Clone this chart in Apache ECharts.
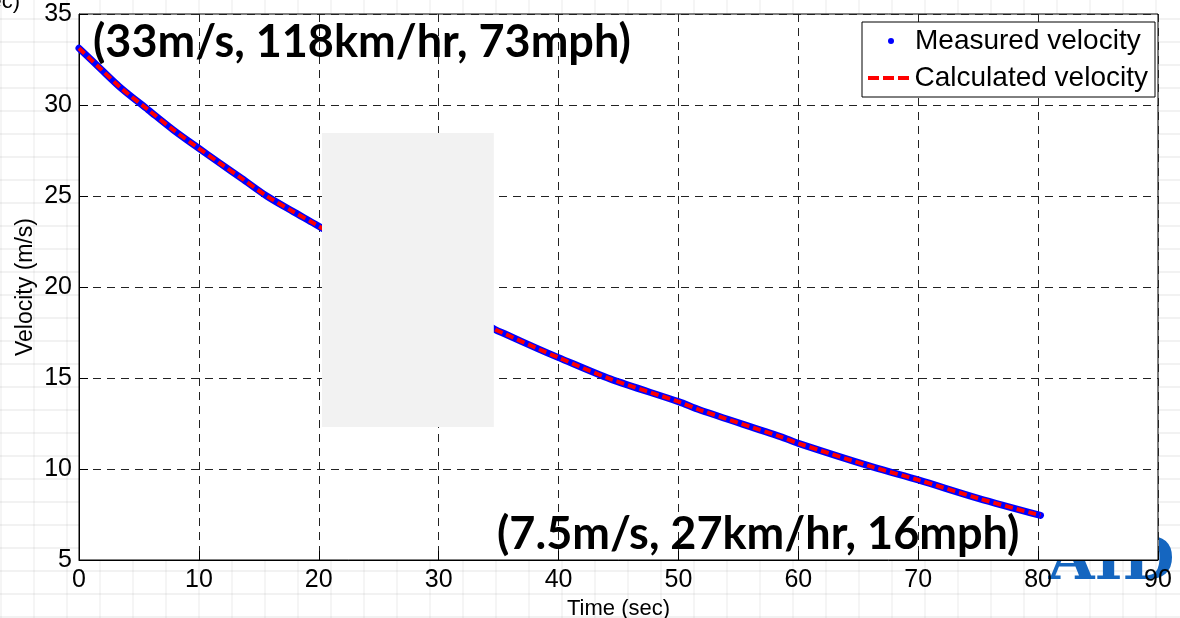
<!DOCTYPE html>
<html>
<head>
<meta charset="utf-8">
<script src="https://cdn.jsdelivr.net/npm/echarts@6/dist/echarts.min.js"></script>
<style>
html,body{margin:0;padding:0;width:1180px;height:618px;overflow:hidden;
background-color:#fff;
background-image:
 repeating-linear-gradient(0deg, rgba(0,0,0,0.05) 0px, rgba(0,0,0,0.05) 2px, transparent 2px, transparent 23px),
 repeating-linear-gradient(90deg, rgba(0,0,0,0.04) 0px, rgba(0,0,0,0.04) 2px, transparent 2px, transparent 33px);}
#logo{position:absolute;left:1048px;top:528px;width:132px;height:90px;font:bold 60px 'DejaVu Serif';line-height:60px;color:#1566c0;z-index:0;
 clip-path:polygon(111px 0px, 132px 0px, 132px 90px, 0px 90px, 0px 33px, 111px 33px);}
#chart{position:absolute;left:0;top:0;width:1180px;height:618px;z-index:1;}
</style>
</head>
<body>
<div id="logo">AID</div>
<div id="chart"></div>
<script>
// ---- data ----
var timeSec = [0, 1.75, 3.56, 5.78, 7.87, 9.8, 11.76, 13.57, 15.65, 17.87, 19.68, 34.7, 35.5, 38.3, 40, 44.3, 50, 51.8, 58.5, 60, 66.25, 70, 75, 80.2];
var measuredVelocity = [33.12, 32.02, 30.9, 29.73, 28.63, 27.71, 26.8, 25.97, 25.0, 24.14, 23.46, 17.67, 17.43, 16.6, 16.12, 14.95, 13.7, 13.24, 11.78, 11.41, 10.1, 9.4, 8.39, 7.45];
var calculatedVelocity = [33.12, 32.02, 30.9, 29.73, 28.63, 27.71, 26.8, 25.97, 25.0, 24.14, 23.46, 17.67, 17.43, 16.6, 16.12, 14.95, 13.7, 13.24, 11.78, 11.41, 10.1, 9.4, 8.39, 7.45];
var maskBox = [[20.27, 28.46, 34.6, 12.31]];
var annotations = ['(33m/s, 118km/hr, 73mph)', '(7.5m/s, 27km/hr, 16mph)'];
var seriesNames = ['Measured velocity', 'Calculated velocity'];

function pairs(xs, ys){ return xs.map(function(x,i){ return [x, ys[i]]; }); }

var chart = echarts.init(document.getElementById('chart'), null, {renderer:'canvas'});
var FONT = 'Liberation Sans, Arial, sans-serif';
var option = {
  backgroundColor: 'transparent',
  animation: false,
  grid: {left:79, right:22, top:14, bottom:58, show:true, backgroundColor:'#fff', borderColor:'#000', borderWidth:1,
         containLabel:false, outerBoundsMode:'none', z:0},
  xAxis: {
    type:'value', min:0, max:90, interval:10,
    name:'Time (sec)', nameLocation:'middle', nameGap:37,
    nameTextStyle:{fontFamily:FONT, fontSize:22, color:'#000'},
    axisLine:{show:true, lineStyle:{color:'#000', width:1}},
    axisTick:{show:true, inside:true, length:9, lineStyle:{color:'#000'}},
    axisLabel:{fontFamily:FONT, fontSize:25, color:'#000', margin:8},
    splitLine:{show:true, lineStyle:{color:'#222', width:1, type:[8,6]}}
  },
  yAxis: {
    type:'value', min:5, max:35, interval:5,
    name:'Velocity (m/s)', nameLocation:'middle', nameGap:42, nameMoveOverlap:false,
    nameTextStyle:{fontFamily:FONT, fontSize:23, color:'#000'},
    axisLine:{show:true, lineStyle:{color:'#000', width:1}},
    axisTick:{show:true, inside:true, length:9, lineStyle:{color:'#000'}},
    axisLabel:{fontFamily:FONT, fontSize:25, color:'#000', margin:7},
    splitLine:{show:true, lineStyle:{color:'#222', width:1, type:[8,6]}}
  },
  legend: [
    {left:888, top:27, padding:0, itemWidth:38, itemHeight:6, z:6,
     data:[{name:seriesNames[0], icon:'circle'}],
     textStyle:{fontFamily:FONT, fontSize:28, color:'#000'}, selectedMode:false},
    {left:868, top:64, padding:0, itemWidth:42, itemHeight:4, z:6,
     data:[{name:seriesNames[1], icon:'path://M0,0h11v4h-11z M15,0h11v4h-11z M30,0h11v4h-11z'}],
     textStyle:{fontFamily:FONT, fontSize:28, color:'#000'}, selectedMode:false}
  ],
  graphic: [
    {type:'rect', z:5, shape:{x:862, y:22, width:293, height:75}, style:{fill:'#fff', stroke:'#000', lineWidth:1}},
    {type:'text', z:7, left:93, top:20, style:{text:annotations[0], fill:'#000', font:'bold 45px Lato'}},
    {type:'text', z:7, left:497, top:512, style:{text:annotations[1], fill:'#000', font:'bold 45px Lato'}},
    {type:'text', z:7, x:20, y:2, style:{text:'(sec)', fill:'#000', font:'22px Liberation Sans', textAlign:'right', textVerticalAlign:'middle'}}
  ],
  series: [
    {name:'plotBg', type:'custom', z:-1, data:[[0]], silent:true,
     renderItem:function(params, api){
       var cs = params.coordSys;
       return {type:'rect', shape:{x:cs.x, y:cs.y, width:cs.width, height:cs.height}, style:{fill:'#fff'}};
     }},
    {name:seriesNames[0], type:'line', data:pairs(timeSec, measuredVelocity), smooth:0.3,
     showSymbol:false, symbol:'none', z:2,
     itemStyle:{color:'#0000ff'},
     lineStyle:{color:'#0000ff', width:7, cap:'round', join:'round'}},
    {name:seriesNames[1], type:'line', data:pairs(timeSec, calculatedVelocity), smooth:0.3,
     showSymbol:false, symbol:'none', z:3,
     itemStyle:{color:'#ff0000'},
     lineStyle:{color:'#ff0000', width:4, type:[8,4]}},
    {name:'mask', type:'custom', z:4, data:maskBox, silent:true,
     renderItem:function(params, api){
       var p1 = api.coord([api.value(0), api.value(1)]);
       var p2 = api.coord([api.value(2), api.value(3)]);
       return {type:'rect', shape:{x:p1[0], y:p1[1], width:p2[0]-p1[0], height:p2[1]-p1[1]}, style:{fill:'#f2f2f2'}};
     }}
  ]
};
chart.setOption(option);
</script>
</body>
</html>
